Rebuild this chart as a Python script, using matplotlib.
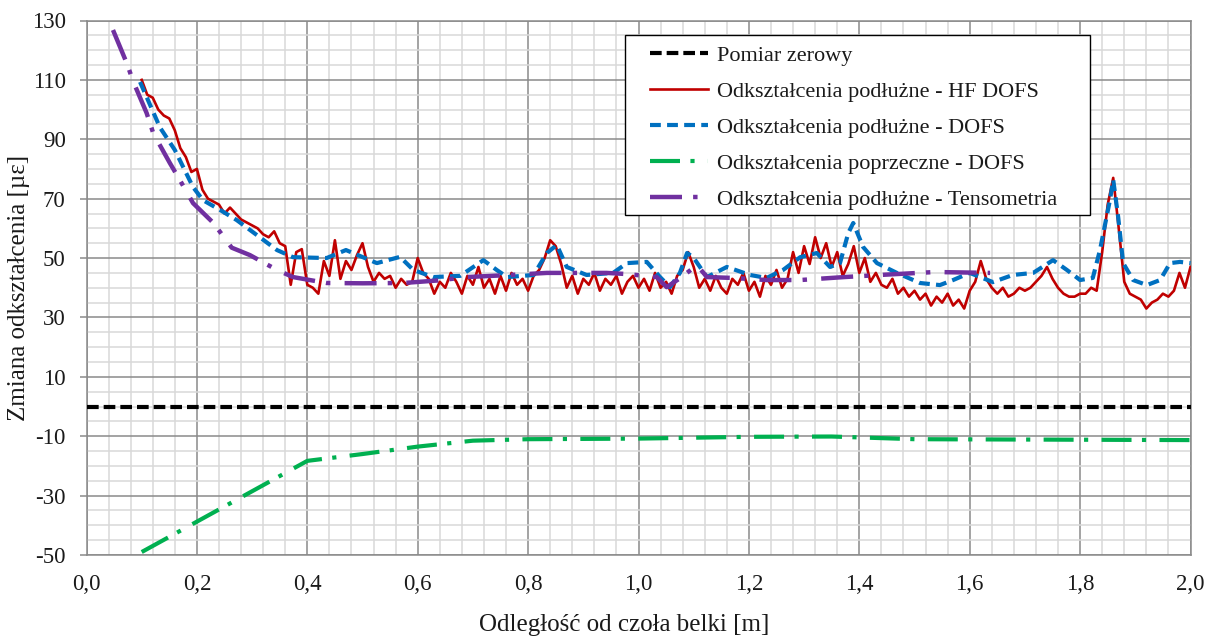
import numpy as np
import matplotlib
matplotlib.use("Agg")
import matplotlib.pyplot as plt
from matplotlib.ticker import MultipleLocator, FixedLocator, FuncFormatter
from matplotlib.patches import Rectangle

# --- data -------------------------------------------------------------
zero_x = [0.0, 2.0]
zero_y = [0.0, 0.0]

hf_x = [round(0.10 + 0.01 * i, 2) for i in range(191)]
hf_y = [110, 105, 104, 100, 98, 97, 93, 87, 84, 79,
        80, 73, 70, 69, 68, 65, 67, 65, 63, 62,
        61, 60, 58, 57, 59, 55, 54, 41, 52, 53,
        41, 40, 38, 49, 44, 56, 43, 49, 46, 51,
        55, 47, 42, 45, 43, 44, 40, 43, 41, 42,
        50, 45, 43, 38, 42, 40, 45, 42, 38, 44,
        41, 47, 40, 43, 38, 44, 39, 45, 41, 43,
        39, 44, 46, 50, 56, 54, 48, 40, 44, 38,
        43, 41, 45, 39, 43, 41, 44, 38, 42, 44,
        40, 43, 39, 45, 40, 42, 38, 44, 46, 52,
        47, 40, 43, 39, 44, 40, 38, 43, 41, 45,
        39, 42, 37, 44, 41, 46, 40, 43, 52, 45,
        54, 48, 57, 50, 55, 47, 52, 44, 48, 54,
        45, 50, 42, 45, 41, 40, 43, 38, 40, 37,
        39, 36, 38, 34, 37, 35, 38, 34, 36, 33,
        39, 42, 49, 43, 40, 38, 40, 37, 38, 40,
        39, 40, 42, 44, 47, 43, 40, 38, 37, 37,
        38, 38, 40, 39, 52, 68, 77, 60, 42, 38,
        37, 36, 33, 35, 36, 38, 37, 39, 45, 40,
        47]

dofs_x = [0.097, 0.133, 0.16, 0.193, 0.211, 0.242, 0.272, 0.314, 0.345, 0.374,
          0.435, 0.47, 0.526, 0.568, 0.592, 0.628, 0.677, 0.719, 0.743, 0.762,
          0.81, 0.834, 0.852, 0.87, 0.906, 0.954, 0.979, 1.015, 1.039, 1.057,
          1.075, 1.088, 1.099, 1.124, 1.16, 1.202, 1.232, 1.262, 1.293, 1.323,
          1.347, 1.365, 1.38, 1.389, 1.407, 1.432, 1.468, 1.51, 1.546, 1.57,
          1.6, 1.642, 1.678, 1.715, 1.751, 1.776, 1.8, 1.823, 1.836, 1.854,
          1.86, 1.869, 1.878, 1.896, 1.921, 1.945, 1.963, 1.981, 2.0]
dofs_y = [109.3, 94, 86.4, 73.9, 69.5, 66.2, 62.8, 57, 52.7, 50.3,
          50, 52.7, 48.3, 50.4, 46, 43.6, 44, 49.3, 46, 43.6,
          44.3, 51.7, 54.4, 47, 44.3, 45, 48.3, 48.7, 43.6, 40.2,
          45, 51.7, 50.3, 43.6, 47, 44.3, 43.3, 46, 50.3, 51.7,
          47, 48.3, 58.4, 61.8, 53.7, 48.3, 45, 41.6, 40.9, 42.6,
          45, 41.9, 44.3, 45, 49.3, 46, 42.6, 43.3, 52.7, 69.5,
          76.3, 63.8, 48.3, 42.6, 40.9, 42.6, 48.3, 48.7, 48.3]

trans_x = [0.1, 0.4, 0.5, 0.6, 0.7, 0.8, 1.0, 1.2, 1.35, 1.5, 2.0]
trans_y = [-49, -18.3, -16, -13.5, -11.5, -11, -10.8, -10.2, -10.1, -11, -11.3]

tens_x = [0.048, 0.073, 0.085, 0.109, 0.121, 0.151, 0.169, 0.193, 0.23, 0.263,
          0.296, 0.345, 0.374, 0.435, 0.5, 0.574, 0.64, 0.689, 0.767, 0.834,
          0.942, 0.98, 1.033, 1.051, 1.075, 1.106, 1.124, 1.171, 1.232, 1.293,
          1.373, 1.437, 1.537, 1.637]
tens_y = [126.8, 115.6, 109.3, 98.8, 92, 82, 76.3, 68.5, 61.8, 53.5,
          51, 46, 43.6, 41.6, 41.5, 41.6, 42.5, 43.6, 44.3, 45,
          45, 44.6, 43.6, 40.2, 43.2, 47.6, 43.6, 43.3, 42.6, 42.6,
          43.6, 44.3, 45.3, 45]

labels = ["Pomiar zerowy",
          "Odkształcenia podłużne - HF DOFS",
          "Odkształcenia podłużne - DOFS",
          "Odkształcenia poprzeczne - DOFS",
          "Odkształcenia podłużne - Tensometria"]

x_ticks = [0.0, 0.2, 0.4, 0.6, 0.8, 1.0, 1.2, 1.4, 1.6, 1.8, 2.0]
y_ticks = [-50, -30, -10, 10, 30, 50, 70, 90, 110, 130]

# --- figure -------------------------------------------------------------
plt.rcParams["font.family"] = ["Liberation Serif", "DejaVu Serif"]
fig = plt.figure(figsize=(12.15, 6.37), dpi=100)
ax = fig.add_axes([86.5 / 1215, 1 - 555 / 637, (1190.5 - 86.5) / 1215, (555 - 20.5) / 637])

ax.set_xlim(0, 2.0)
ax.set_ylim(-50, 130)
ax.xaxis.set_major_locator(FixedLocator(x_ticks))
ax.yaxis.set_major_locator(FixedLocator(y_ticks))
ax.xaxis.set_minor_locator(MultipleLocator(0.04))
ax.yaxis.set_minor_locator(MultipleLocator(5))
ax.xaxis.set_major_formatter(FuncFormatter(lambda v, p: f"{v:.1f}".replace(".", ",")))
ax.yaxis.set_major_formatter(FuncFormatter(lambda v, p: f"{v:.0f}"))

ax.grid(which="minor", color="#d9d9d9", linewidth=1.1, zorder=0)
ax.grid(which="major", color="#8a8a8a", linewidth=1.1, zorder=0)
ax.set_axisbelow(True)
for s in ax.spines.values():
    s.set_color("#8a8a8a")
    s.set_linewidth(1.1)

ax.tick_params(axis="y", which="major", length=5, width=1.1, color="#8a8a8a",
               labelsize=16.5, pad=10, labelcolor="#1a1a1a")
ax.tick_params(axis="x", which="major", length=0, labelsize=16.5, pad=14,
               labelcolor="#1a1a1a")
ax.tick_params(which="minor", length=0)

ax.set_xlabel("Odległość od czoła belki [m]", fontsize=18, color="#1a1a1a")
ax.xaxis.set_label_coords(0.487, -0.110)
ax.set_ylabel("Zmiana odkształcenia [µε]", fontsize=18, labelpad=1, color="#1a1a1a")

l0, = ax.plot(zero_x, zero_y, color="black", lw=3.0,
              linestyle=(0, (2.8, 1.2)), zorder=3)
l1, = ax.plot(hf_x, hf_y, color="#C00000", lw=1.9, zorder=3)
l2, = ax.plot(dofs_x, dofs_y, color="#0070C0", lw=3.0,
              linestyle=(0, (2.6, 1.5)), zorder=4)
l3, = ax.plot(trans_x, trans_y, color="#00B050", lw=3.0,
              linestyle=(0, (7.2, 2.5, 1.0, 3.2)), zorder=3)
l4, = ax.plot(tens_x, tens_y, color="#7030A0", lw=3.2,
              linestyle=(0, (7.2, 2.5, 1.0, 3.2)), zorder=5)

# legend frame drawn separately for exact placement
frame = Rectangle((625 / 1215, 1 - 215 / 637), 465 / 1215, 180 / 637,
                  transform=fig.transFigure, facecolor="white",
                  edgecolor="black", linewidth=1.0, zorder=6)
ax.add_artist(frame)
frame.set_clip_on(False)

leg = ax.legend([l0, l1, l2, l3, l4], labels, loc="upper left",
                bbox_to_anchor=(650 / 1215, 1 - 45 / 637),
                bbox_transform=fig.transFigure, frameon=False,
                fontsize=16, handlelength=2.6, handletextpad=0.42,
                labelspacing=0.70, borderpad=0, borderaxespad=0)
leg.set_zorder(7)
for t in leg.get_texts():
    t.set_color("#1a1a1a")

fig.savefig("out.png", dpi=100)
